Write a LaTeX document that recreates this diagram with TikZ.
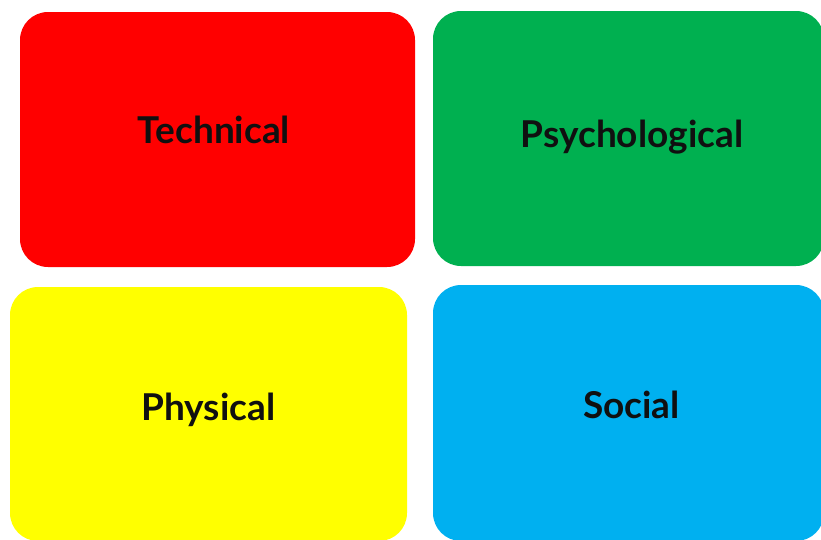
\documentclass[tikz,border=0pt]{standalone}
\usepackage{fontspec}
\setmainfont{Lato}
\definecolor{cred}{HTML}{FF0000}
\definecolor{cgreen}{HTML}{00B050}
\definecolor{cyellow}{HTML}{FFFF00}
\definecolor{cblue}{HTML}{00B0F0}
\definecolor{ctext}{HTML}{101010}
\begin{document}
\begin{tikzpicture}[x=1pt,y=-1pt,
  card/.style={rounded corners=28pt, inner sep=0pt, draw=none},
  cardtext/.style={anchor=base, inner sep=0pt, text=ctext, font=\fontsize{37}{40}\selectfont\bfseries}]
\useasboundingbox (0,0) rectangle (821,539);
\clip (0,0) rectangle (821,539);
\fill[white] (0,0) rectangle (821,539);
\node[card, fill=cred, minimum width=395pt, minimum height=255pt] (red) at (217.5,139.5) {};
\node[card, fill=cgreen, minimum width=391pt, minimum height=255pt] (green) at (628.5,138.5) {};
\node[card, fill=cyellow, minimum width=397pt, minimum height=254pt] (yellow) at (208.5,414) {};
\node[card, fill=cblue, minimum width=391pt, minimum height=256pt] (blue) at (628.5,413) {};
\node[cardtext] (t1) at (214,143) {Technical};
\node[cardtext] (t2) at (632,147) {Psychological};
\node[cardtext] (t3) at (208.5,420) {Physical};
\node[cardtext] (t4) at (631.5,418) {Social};
\end{tikzpicture}
\end{document}
